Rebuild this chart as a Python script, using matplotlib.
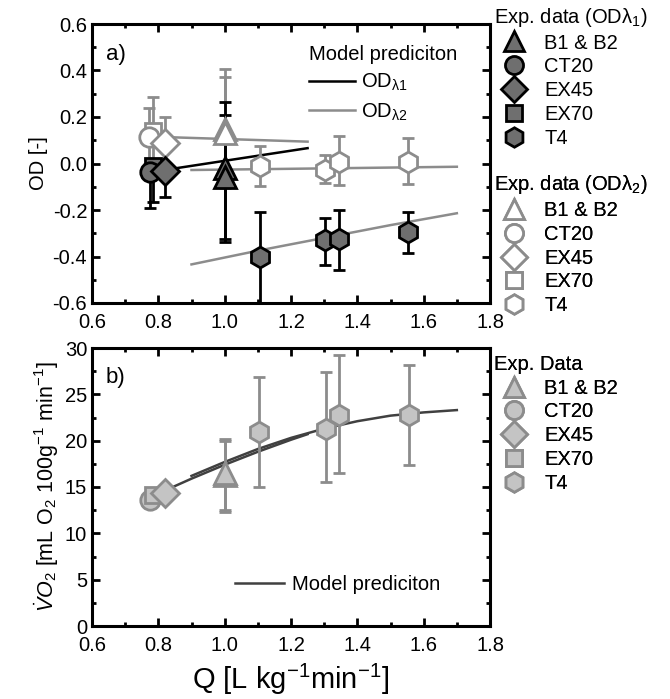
import matplotlib
matplotlib.use('Agg')
import matplotlib.pyplot as plt
from matplotlib.lines import Line2D
from matplotlib.ticker import MultipleLocator, FormatStrFormatter

plt.rcParams['font.family'] = ['Liberation Sans', 'DejaVu Sans']
plt.rcParams['mathtext.fontset'] = 'custom'
plt.rcParams['mathtext.rm'] = 'Liberation Sans'
plt.rcParams['mathtext.it'] = 'Liberation Sans:italic'

# ---- panel a) experimental OD data: (group, x, y, lower, upper)
groups = ['B1 & B2', 'CT20', 'EX45', 'EX70', 'T4']
markers = {'B1 & B2': '^', 'CT20': 'o', 'EX45': 'D', 'EX70': 's', 'T4': 'h'}
msizes = {'B1 & B2': 16, 'CT20': 14, 'EX45': 14, 'EX70': 12, 'T4': 15}

od1_group = ['EX70', 'CT20', 'EX45', 'B1 & B2', 'B1 & B2', 'T4', 'T4', 'T4', 'T4']
od1_x = [0.785, 0.775, 0.82, 1.0, 1.0, 1.106, 1.302, 1.345, 1.553]
od1_y = [-0.01, -0.035, -0.032, -0.02, -0.06, -0.40, -0.329, -0.326, -0.293]
od1_lo = [-0.165, -0.19, -0.145, -0.338, -0.325, -0.60, -0.437, -0.458, -0.384]
od1_hi = [0.0, 0.0, 0.0, 0.266, 0.209, -0.207, -0.235, -0.20, -0.207]

od2_group = ['EX70', 'CT20', 'EX45', 'B1 & B2', 'B1 & B2', 'T4', 'T4', 'T4', 'T4']
od2_x = [0.785, 0.772, 0.82, 1.0, 1.0, 1.106, 1.302, 1.345, 1.553]
od2_y = [0.14, 0.115, 0.087, 0.15, 0.13, -0.01, -0.028, 0.008, 0.005]
od2_lo = [0.02, 0.0, 0.0, -0.106, -0.09, -0.095, -0.085, -0.092, -0.09]
od2_hi = [0.287, 0.238, 0.199, 0.405, 0.37, 0.077, 0.037, 0.118, 0.11]

# model predictions panel a)
m1_x = [0.855, 1.25]
m1_y = [-0.02, 0.066]
m2a_x = [0.835, 1.25]
m2a_y = [0.113, 0.094]
m2b_x = [0.9, 1.7]
m2b_y = [-0.028, -0.014]
m2c_x = [0.9, 1.1, 1.3, 1.5, 1.7]
m2c_y = [-0.434, -0.375, -0.32, -0.265, -0.214]

# ---- panel b) oxygen consumption
vo_group = ['CT20', 'EX70', 'EX45', 'B1 & B2', 'B1 & B2', 'T4', 'T4', 'T4', 'T4']
vo_x = [0.775, 0.785, 0.82, 1.0, 1.0, 1.105, 1.305, 1.345, 1.555]
vo_y = [13.6, 14.1, 14.3, 16.3, 16.5, 20.9, 21.3, 22.8, 22.8]
vo_lo = [13.0, 13.5, 13.8, 12.3, 12.5, 15.0, 15.5, 16.5, 17.4]
vo_hi = [14.2, 14.7, 14.8, 20.2, 20.0, 26.9, 27.4, 29.2, 28.2]

mb1_x = [0.8, 0.9, 1.0, 1.1, 1.2, 1.25]
mb1_y = [14.3, 15.9, 17.4, 18.8, 20.1, 20.7]
mb2_x = [0.9, 1.0, 1.1, 1.2, 1.3, 1.4, 1.5, 1.6, 1.7]
mb2_y = [16.2, 17.7, 19.1, 20.3, 21.3, 22.1, 22.7, 23.05, 23.3]

DARK_FILL = '#6f6f6f'
GREY = '#8c8c8c'
LIGHT_FILL = '#c4c4c4'
FS = 14.5


def style_axes(ax):
    for s in ax.spines.values():
        s.set_linewidth(2.2)
    ax.tick_params(which='both', direction='in', top=True, right=True, labelsize=FS, width=2)
    ax.tick_params(which='major', length=6)
    ax.tick_params(which='minor', length=3)
    ax.tick_params(axis='x', pad=7)
    ax.set_xlim(0.6, 1.8)
    ax.xaxis.set_major_locator(MultipleLocator(0.2))
    ax.xaxis.set_minor_locator(MultipleLocator(0.1))
    ax.xaxis.set_major_formatter(FormatStrFormatter('%.1f'))


def draw_points(ax, grp, x, y, lo, hi, fc, ec, errc):
    for g, xi, yi, l, h in zip(grp, x, y, lo, hi):
        ax.errorbar([xi], [yi], yerr=[[yi - l], [h - yi]], fmt='none', ecolor=errc,
                    elinewidth=2, capsize=4, capthick=2, zorder=3)
    for g, xi, yi in zip(grp, x, y):
        ax.plot(xi, yi, marker=markers[g], ms=msizes[g], mfc=fc, mec=ec, mew=2, ls='none', zorder=4)


def group_handles(fc, ec):
    return [Line2D([], [], marker=markers[g], ms=msizes[g] - 1, mfc=fc, mec=ec, mew=2, ls='none')
            for g in groups]


def group_legend(ax, fc, ec, title, y):
    leg = ax.legend(group_handles(fc, ec), groups, title=title, loc='upper left',
                    bbox_to_anchor=(1.0, y), frameon=False, fontsize=FS, title_fontsize=FS,
                    handletextpad=0.5, labelspacing=0.24, borderaxespad=0, borderpad=0.2)
    leg._legend_box.align = 'left'
    ax.add_artist(leg)
    return leg


fig = plt.figure(figsize=(6.7, 6.99), dpi=100)
ax1 = fig.add_axes([92 / 670, 1 - 303 / 699, 398 / 670, 279 / 699])
ax2 = fig.add_axes([92 / 670, 1 - 626 / 699, 398 / 670, 278 / 699])

# panel a
ax1.plot(m1_x, m1_y, color='black', lw=1.8, zorder=2)
ax1.plot(m2a_x, m2a_y, color=GREY, lw=1.8, zorder=2)
ax1.plot(m2b_x, m2b_y, color=GREY, lw=1.8, zorder=2)
ax1.plot(m2c_x, m2c_y, color=GREY, lw=1.8, zorder=2)
draw_points(ax1, od2_group, od2_x, od2_y, od2_lo, od2_hi, 'white', GREY, GREY)
draw_points(ax1, od1_group, od1_x, od1_y, od1_lo, od1_hi, DARK_FILL, 'black', 'black')
style_axes(ax1)
ax1.set_ylim(-0.6, 0.6)
ax1.yaxis.set_major_locator(MultipleLocator(0.2))
ax1.yaxis.set_minor_locator(MultipleLocator(0.1))
ax1.yaxis.set_major_formatter(FormatStrFormatter('%.1f'))
ax1.set_ylabel('OD [-]', fontsize=FS, labelpad=3)
ax1.text(0.035, 0.93, 'a)', transform=ax1.transAxes, fontsize=16, va='top')

model_handles = [Line2D([], [], color='black', lw=1.8), Line2D([], [], color=GREY, lw=1.8)]
leg_m = ax1.legend(model_handles, ['OD$_{\\mathrm{λ1}}$', 'OD$_{\\mathrm{λ2}}$'],
                   title='Model prediciton', loc='upper left', bbox_to_anchor=(0.5, 0.99),
                   frameon=False, fontsize=FS, title_fontsize=FS, handlelength=2.3,
                   handletextpad=0.3, labelspacing=0.4)
leg_m._legend_box.align = 'left'
ax1.add_artist(leg_m)

group_legend(ax1, DARK_FILL, 'black', 'Exp. data (ODλ$_1$)', 1.08)
group_legend(ax1, 'white', GREY, 'Exp. data (ODλ$_2$)', 0.48)

# panel b
ax2.plot(mb1_x, mb1_y, color='#404040', lw=1.8, zorder=2)
ax2.plot(mb2_x, mb2_y, color='#404040', lw=1.8, zorder=2)
draw_points(ax2, vo_group, vo_x, vo_y, vo_lo, vo_hi, LIGHT_FILL, GREY, GREY)
style_axes(ax2)
ax2.set_ylim(0, 30)
ax2.yaxis.set_major_locator(MultipleLocator(5))
ax2.yaxis.set_minor_locator(MultipleLocator(2.5))
ax2.set_ylabel(r'$\dot{V}O_2$ [mL O$_2$ 100g$^{-1}$ min$^{-1}$]', fontsize=15.5, labelpad=3)
ax2.text(0.035, 0.93, 'b)', transform=ax2.transAxes, fontsize=16, va='top')
ax2.set_xlabel(r'Q [L kg$^{-1}$min$^{-1}$]', fontsize=21, labelpad=5)

leg_b = ax2.legend([Line2D([], [], color='#404040', lw=1.8)], ['Model prediciton'],
                   loc='lower right', bbox_to_anchor=(0.92, 0.05), frameon=False, fontsize=FS,
                   handlelength=2.4, handletextpad=0.4)
ax2.add_artist(leg_b)
group_legend(ax2, LIGHT_FILL, GREY, 'Exp. Data', 0.99)

fig.savefig('out.png', dpi=100)
